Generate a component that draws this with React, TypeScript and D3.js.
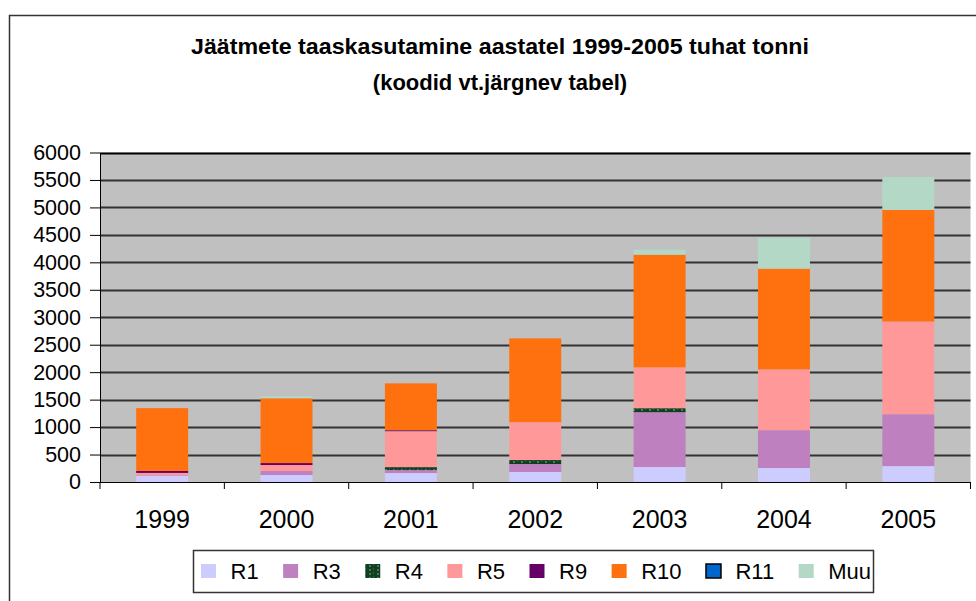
import React, { useEffect, useRef } from 'react';
import * as d3 from 'd3';

const years = ['1999', '2000', '2001', '2002', '2003', '2004', '2005'];
const seriesNames = ['R1', 'R3', 'R4', 'R5', 'R9', 'R10', 'R11', 'Muu'];
const r1 = [110, 127, 163, 182, 272, 254, 290];
const r3 = [10, 73, 54, 145, 999, 690, 944];
const r4 = [0, 0, 54, 73, 73, 0, 0];
const r5 = [45, 109, 654, 690, 744, 1107, 1688];
const r9 = [36, 36, 18, 0, 0, 0, 0];
const r10 = [1144, 1180, 853, 1525, 2052, 1834, 2033];
const r11 = [0, 0, 0, 0, 0, 0, 0];
const muu = [0, 36, 0, 0, 91, 563, 599];
const yTicks = [0, 500, 1000, 1500, 2000, 2500, 3000, 3500, 4000, 4500, 5000, 5500, 6000];

const colors: Record<string, string> = {
  R1: '#ccccff',
  R3: '#bf80bf',
  R4: 'url(#r4pat)',
  R5: '#ff9999',
  R9: '#660066',
  R10: '#ff700f',
  R11: '#0066cc',
  Muu: '#b3d8c6',
};

const font = 'Liberation Sans, Arial, sans-serif';

export default function App() {
  const svgRef = useRef<SVGSVGElement>(null);

  useEffect(() => {
    const svg = d3.select(svgRef.current);
    svg.selectAll('*').remove();

    // pattern for R4 (dark green, speckled)
    const defs = svg.append('defs');
    const pat = defs.append('pattern')
      .attr('id', 'r4pat')
      .attr('patternUnits', 'userSpaceOnUse')
      .attr('width', 8).attr('height', 4);
    pat.append('rect').attr('width', 8).attr('height', 4).attr('fill', '#123f22');
    pat.append('rect').attr('x', 1).attr('y', 1).attr('width', 2).attr('height', 2).attr('fill', '#4a7a58');
    pat.append('rect').attr('x', 5).attr('y', 0).attr('width', 1).attr('height', 2).attr('fill', '#2e5e3c');

    // outer frame
    svg.append('rect')
      .attr('x', 9.5).attr('y', 15.5)
      .attr('width', 1000).attr('height', 700)
      .attr('fill', 'none').attr('stroke', '#333').attr('stroke-width', 1.5);

    // title
    const title = svg.append('text')
      .attr('text-anchor', 'middle')
      .attr('font-family', font)
      .attr('font-weight', 'bold')
      .attr('font-size', 22)
      .attr('fill', '#000');
    title.append('tspan').attr('x', 500).attr('y', 54)
      .attr('textLength', 618).attr('lengthAdjust', 'spacingAndGlyphs')
      .text('Jäätmete taaskasutamine aastatel 1999-2005 tuhat tonni');
    title.append('tspan').attr('x', 500).attr('y', 90)
      .text('(koodid vt.järgnev tabel)');

    const x = d3.scaleBand<string>()
      .domain(years)
      .range([100, 970.5])
      .paddingInner(0.582)
      .paddingOuter(0.291);

    const y = d3.scaleLinear().domain([0, 6000]).range([482, 152.5]);

    // plot background
    svg.append('rect')
      .attr('x', 100).attr('y', y(6000))
      .attr('width', 870.5).attr('height', y(0) - y(6000))
      .attr('fill', '#c0c0c0');

    // gridlines
    svg.append('g')
      .selectAll('line')
      .data(yTicks.filter((t) => t > 0))
      .enter()
      .append('line')
      .attr('x1', 100).attr('x2', 970.5)
      .attr('y1', (d) => Math.round(y(d)) + 0.5)
      .attr('y2', (d) => Math.round(y(d)) + 0.5)
      .attr('stroke', (d) => (d === 6000 ? '#000' : '#333'))
      .attr('stroke-width', 2);

    // stacked bars
    const table = years.map((yr, i) => ({
      year: yr,
      R1: r1[i], R3: r3[i], R4: r4[i], R5: r5[i], R9: r9[i], R10: r10[i], R11: r11[i], Muu: muu[i],
    }));
    const stacked = d3.stack<any>().keys(seriesNames)(table);

    svg.append('g')
      .selectAll('g')
      .data(stacked)
      .enter()
      .append('g')
      .attr('fill', (s) => colors[s.key])
      .selectAll('rect')
      .data((s) => s)
      .enter()
      .append('rect')
      .attr('x', (d: any) => x(d.data.year)!)
      .attr('y', (d) => y(d[1]))
      .attr('width', x.bandwidth())
      .attr('height', (d) => Math.max(0, y(d[0]) - y(d[1])));

    // y axis
    svg.append('g')
      .attr('transform', 'translate(100,0)')
      .call(d3.axisLeft(y).tickValues(yTicks).tickFormat(d3.format('d')).tickSize(10).tickPadding(9).tickSizeOuter(0))
      .call((g) => g.selectAll('text').attr('font-size', 21.5).attr('font-family', font).attr('fill', '#000'))
      .call((g) => g.selectAll('line').attr('stroke', '#000'))
      .call((g) => g.select('.domain').attr('stroke', '#000'));

    // x axis
    const pad = (x.step() - x.bandwidth()) / 2;
    const bounds = years.map((yr) => x(yr)! - pad).concat([x(years[years.length - 1])! + x.bandwidth() + pad]);
    const xg = svg.append('g');
    xg.append('line')
      .attr('x1', 100).attr('x2', 970.5)
      .attr('y1', 482.5).attr('y2', 482.5)
      .attr('stroke', '#000');
    xg.selectAll('line.tick')
      .data(bounds)
      .enter()
      .append('line')
      .attr('class', 'tick')
      .attr('x1', (d) => d).attr('x2', (d) => d)
      .attr('y1', 482).attr('y2', 489)
      .attr('stroke', '#000');
    xg.selectAll('text')
      .data(years)
      .enter()
      .append('text')
      .attr('x', (d) => x(d)! + x.bandwidth() / 2)
      .attr('y', 528)
      .attr('text-anchor', 'middle')
      .attr('font-family', font)
      .attr('font-size', 25)
      .attr('fill', '#000')
      .text((d) => d);

    // legend
    const lg = svg.append('g');
    lg.append('rect')
      .attr('x', 193.5).attr('y', 550.5)
      .attr('width', 680).attr('height', 42)
      .attr('fill', '#fff').attr('stroke', '#333').attr('stroke-width', 1.5);
    let cx = 201;
    seriesNames.forEach((name) => {
      lg.append('rect')
        .attr('x', cx).attr('y', 564)
        .attr('width', 15).attr('height', 14)
        .attr('fill', colors[name])
        .attr('stroke', name === 'R11' ? '#000' : 'none')
        .attr('stroke-width', name === 'R11' ? 1.5 : 0);
      const t = lg.append('text')
        .attr('x', cx + 29.5)
        .attr('y', 578.5)
        .attr('font-family', font)
        .attr('font-size', 22)
        .attr('fill', '#000')
        .text(name);
      const w = (t.node() as SVGTextElement).getComputedTextLength();
      cx += 54 + w;
    });

    return () => { svg.selectAll('*').remove(); };
  }, []);

  return (
    <svg
      ref={svgRef}
      width={976}
      height={601}
      style={{ position: 'absolute', left: 0, top: 0, background: '#fff' }}
    />
  );
}
